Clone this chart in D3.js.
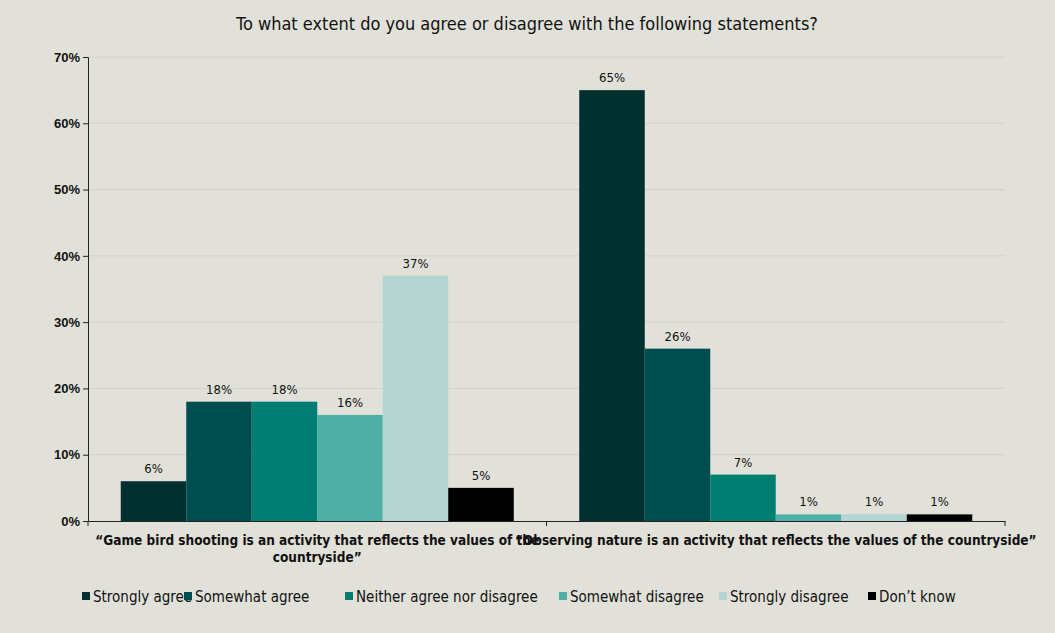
<!DOCTYPE html><html><head><meta charset="utf-8">
<script src="https://cdn.jsdelivr.net/npm/d3@7"></script>
<style>body{margin:0;background:#E1E1D9}svg{font-family:"Liberation Sans Narrow","DejaVu Sans Condensed",sans-serif}</style></head><body>
<svg id="c" width="1055" height="633"></svg>
<script>
const categories=["\u201cGame bird shooting is an activity that reflects the values of the countryside\u201d","\u201cObserving nature is an activity that reflects the values of the countryside\u201d"];
const catLines=[["\u201cGame bird shooting is an activity that reflects the values of the","countryside\u201d"],["\u201cObserving nature is an activity that reflects the values of the countryside\u201d"]];
const seriesNames=["Strongly agree","Somewhat agree","Neither agree nor disagree","Somewhat disagree","Strongly disagree","Don\u2019t know"];
const colors=["#00302F","#004D50","#007E72","#4DAFA6","#B5D5D2","#000000"];
const values=[[6,18,18,16,37,5],[65,26,7,1,1,1]];
const yTicks=[0,10,20,30,40,50,60,70];
const svg=d3.select("#c");
svg.append("rect").attr("width",1055).attr("height",633).attr("fill","#E1E1D9");
const L=88,R=1005,T=57,B=521;
const y=d3.scaleLinear().domain([0,70]).range([B,T]);
const x0=d3.scaleBand().domain(d3.range(2)).range([L,R]);
const x1=d3.scaleBand().domain(d3.range(6)).range([0,x0.bandwidth()]).paddingOuter(0.5);
svg.append("text").attr("x",527).attr("y",30).attr("text-anchor","middle").attr("font-size",18).attr("fill","#111").text("To what extent do you agree or disagree with the following statements?");
yTicks.forEach(t=>{if(t>0)svg.append("line").attr("x1",L).attr("x2",R).attr("y1",y(t)).attr("y2",y(t)).attr("stroke","#D2D2CA");});
const ya=svg.append("g").attr("transform",`translate(${L},0)`).call(d3.axisLeft(y).tickValues(yTicks).tickFormat(d=>d+"%").tickSize(5));
ya.selectAll("text").attr("font-size",13).attr("font-weight","bold").attr("fill","#111").attr("font-family","inherit");
ya.selectAll("line,path").attr("stroke","#222");
values.forEach((vals,g)=>{
 vals.forEach((v,i)=>{
  const bx=x0(g)+x1(i);
  svg.append("rect").attr("x",bx).attr("y",y(v)).attr("width",x1.bandwidth()).attr("height",y(0)-y(v)).attr("fill",colors[i]);
  svg.append("text").attr("x",bx+x1.bandwidth()/2).attr("y",y(v)-8).attr("text-anchor","middle").attr("font-size",13).attr("fill","#111").text(v+"%");
 });
});
const xa=svg.append("g").attr("transform",`translate(0,${B})`).call(d3.axisBottom(x0).tickValues([]).tickSizeOuter(0));
xa.select("path").attr("stroke","#222");
[L,x0(1),R].forEach(px=>svg.append("line").attr("x1",px).attr("x2",px).attr("y1",B).attr("y2",B+5).attr("stroke","#222"));
catLines.forEach((ls,g)=>ls.forEach((s,k)=>svg.append("text").attr("x",x0(g)+x0.bandwidth()/2).attr("y",545+k*17).attr("text-anchor","middle").attr("font-size",13.5).attr("font-weight","bold").attr("fill","#111").text(s)));
const lx=[82,184,345,559,719,868];
seriesNames.forEach((n,i)=>{
 svg.append("rect").attr("x",lx[i]).attr("y",592).attr("width",8).attr("height",8).attr("fill",colors[i]);
 svg.append("text").attr("x",lx[i]+11).attr("y",602).attr("font-size",15).attr("fill","#111").text(n);
});
</script></body></html>
